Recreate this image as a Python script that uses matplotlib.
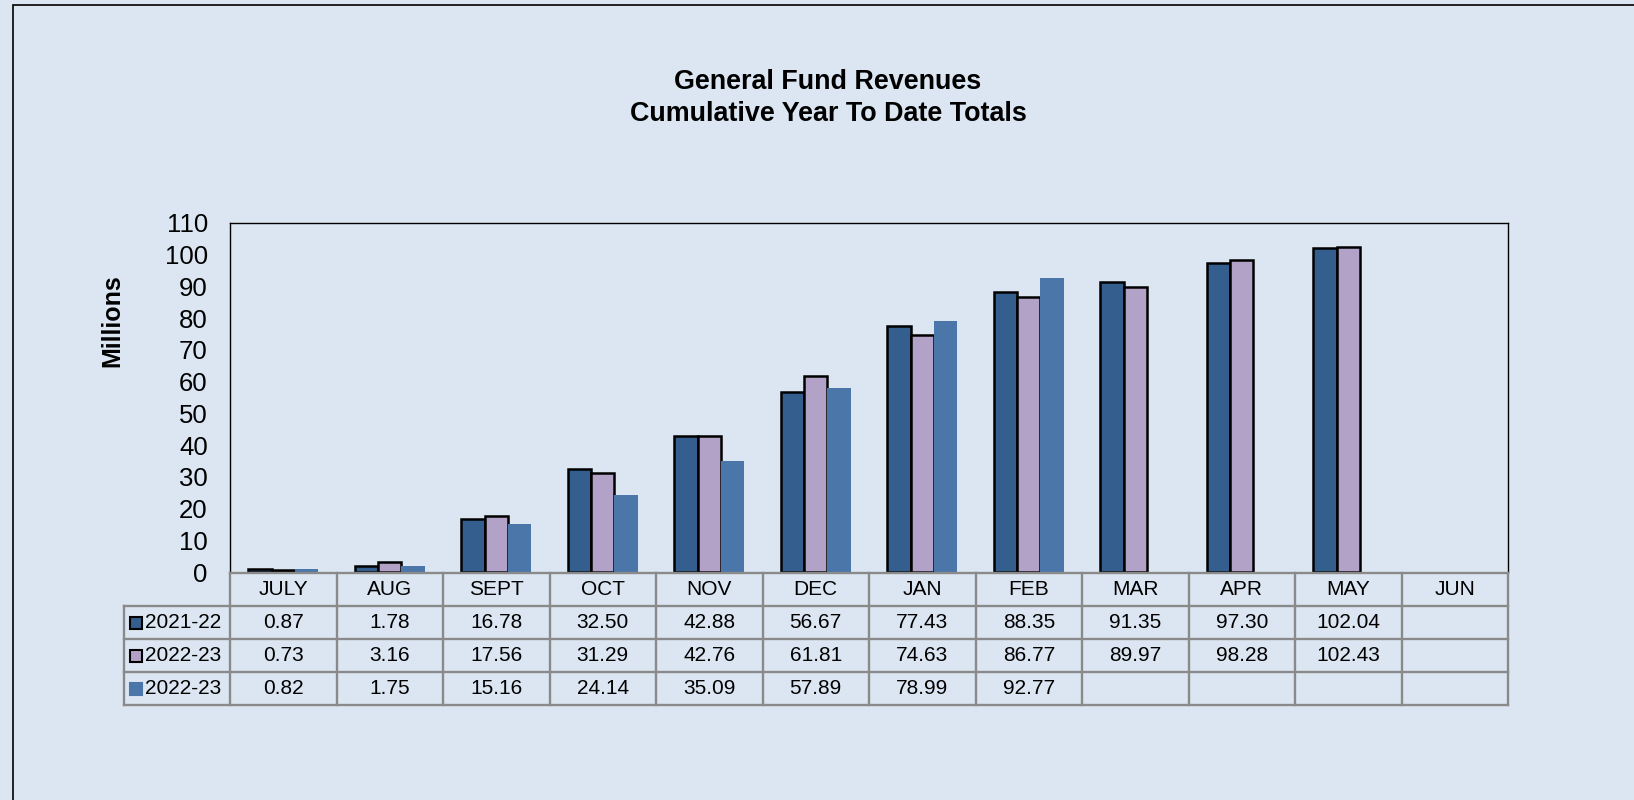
import matplotlib
matplotlib.use("Agg")
import matplotlib.pyplot as plt
import matplotlib.transforms as mtransforms
from matplotlib.patches import Rectangle
import numpy as np

months = ["JULY", "AUG", "SEPT", "OCT", "NOV", "DEC", "JAN", "FEB", "MAR", "APR", "MAY", "JUN"]
series_names = ["2021-22", "2022-23", "2022-23"]
s2021_22 = [0.87, 1.78, 16.78, 32.50, 42.88, 56.67, 77.43, 88.35, 91.35, 97.30, 102.04, None]
s2022_23a = [0.73, 3.16, 17.56, 31.29, 42.76, 61.81, 74.63, 86.77, 89.97, 98.28, 102.43, None]
s2022_23b = [0.82, 1.75, 15.16, 24.14, 35.09, 57.89, 78.99, 92.77, None, None, None, None]
yticks = [0, 10, 20, 30, 40, 50, 60, 70, 80, 90, 100, 110]

series = [s2021_22, s2022_23a, s2022_23b]
colors = ["#345E8E", "#B3A2C7", "#4A76AA"]
edges = ["black", "black", "none"]

plt.rcParams['font.family'] = ['Liberation Sans', 'DejaVu Sans']
bg = "#DCE6F2"
W, H = 1634, 800
fig = plt.figure(figsize=(W / 100, H / 100), dpi=100, facecolor=bg)

# outer frame (extends beyond right/bottom edges)
fig.patches.append(Rectangle((13 / W, -0.5), 2, (1 - 5 / H) + 0.5, transform=fig.transFigure,
                             fill=False, edgecolor="black", linewidth=1.2))

ax = fig.add_axes([230 / W, 1 - 572 / H, (1508 - 230) / W, (572 - 223) / H])
ax.set_facecolor(bg)

x = np.arange(len(months))
bw = 0.22
offsets = [-bw, 0, bw]
for s, c, e, off in zip(series, colors, edges, offsets):
    vals = [np.nan if v is None else v for v in s]
    ax.bar(x + off, vals, width=bw, color=c, edgecolor=e,
           linewidth=1.8 if e != "none" else 0, zorder=3)

ax.set_xlim(-0.5, len(months) - 0.5)
ax.set_ylim(0, 110)
ax.set_yticks(yticks)
ax.set_yticklabels([str(t) for t in yticks], fontsize=18.5)
ax.tick_params(axis='y', length=0, pad=16)
ax.set_xticks([])
for sp in ["top", "right", "left"]:
    ax.spines[sp].set_color("black")
    ax.spines[sp].set_linewidth(1.0)
ax.spines["bottom"].set_visible(False)

ax.set_ylabel("Millions", fontsize=18, fontweight="bold")
ax.yaxis.set_label_coords(-0.0824, 0.72)

fig.text(828 / W, 1 - 98 / H, "General Fund Revenues\nCumulative Year To Date Totals",
         ha="center", va="center", fontsize=19.4, fontweight="bold", linespacing=1.28)

# data table
trans = mtransforms.blended_transform_factory(ax.transData, ax.transAxes)
axh = 572 - 223
def yf(px):
    return (572 - px) / axh

row_edges = [yf(573), yf(606), yf(639), yf(672), yf(705)]
gray = "#8A8A8A"
lw = 1.7
n = len(months)
fs = 15
# horizontal lines
ax.plot([-0.5, n - 0.5], [row_edges[0]] * 2, color=gray, lw=lw, transform=trans, clip_on=False, zorder=5)
for ye in row_edges[1:]:
    ax.plot([-1.5, n - 0.5], [ye] * 2, color=gray, lw=lw, transform=trans, clip_on=False, zorder=5)
# vertical lines
for i in range(n + 1):
    ax.plot([i - 0.5] * 2, [row_edges[0], row_edges[-1]], color=gray, lw=lw,
            transform=trans, clip_on=False, zorder=5)
ax.plot([-1.5] * 2, [row_edges[1], row_edges[-1]], color=gray, lw=lw,
        transform=trans, clip_on=False, zorder=5)

# header
hy = (row_edges[0] + row_edges[1]) / 2
for i, m in enumerate(months):
    ax.text(i, hy, m, ha="center", va="center", fontsize=fs, transform=trans, clip_on=False)

for r, (s, name, c, e) in enumerate(zip(series, series_names, colors, edges)):
    yc = (row_edges[r + 1] + row_edges[r + 2]) / 2
    ax.plot([-1.5 + 12.5 / 106.5], [yc], marker="s", markersize=8, color=c,
            markeredgecolor=("black" if e != "none" else c), markeredgewidth=1.5,
            transform=trans, clip_on=False, zorder=6)
    ax.text(-1.5 + 22 / 106.5, yc, name, ha="left", va="center", fontsize=fs,
            transform=trans, clip_on=False)
    for i, v in enumerate(s):
        if v is not None:
            ax.text(i, yc, f"{v:.2f}", ha="center", va="center", fontsize=fs,
                    transform=trans, clip_on=False)

fig.savefig("out.png", dpi=100, facecolor=bg)
